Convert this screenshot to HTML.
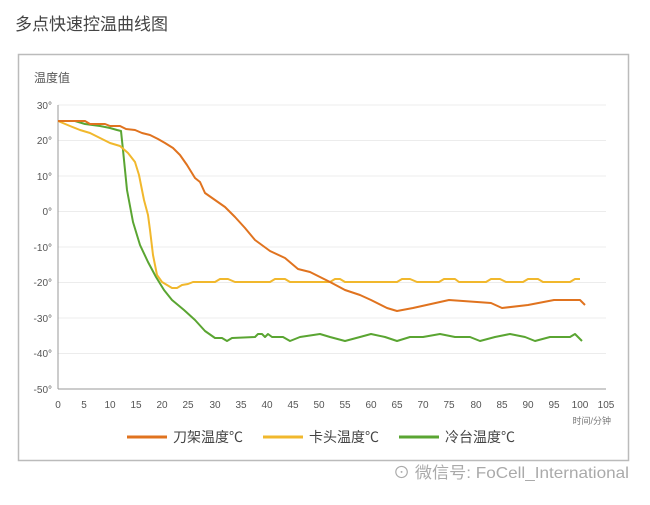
<!DOCTYPE html>
<html><head><meta charset="utf-8"><style>
body{margin:0;background:#fff;}
svg text{font-family:"Liberation Sans","Noto Sans CJK SC",sans-serif;}
</style></head><body>
<svg width="650" height="500" xmlns="http://www.w3.org/2000/svg">
<text x="15" y="30" font-size="17" fill="#444">多点快速控温曲线图</text>
<rect x="18.5" y="54.5" width="610" height="406" fill="none" stroke="#bbb" stroke-width="1.5"/>
<text x="34" y="82" font-size="12" fill="#555">温度值</text>
<g stroke="#ececec">
<line x1="58" y1="105" x2="606" y2="105"/><line x1="58" y1="140.5" x2="606" y2="140.5"/><line x1="58" y1="176" x2="606" y2="176"/><line x1="58" y1="211.5" x2="606" y2="211.5"/><line x1="58" y1="247" x2="606" y2="247"/><line x1="58" y1="282.5" x2="606" y2="282.5"/><line x1="58" y1="318" x2="606" y2="318"/><line x1="58" y1="353.5" x2="606" y2="353.5"/>
</g>
<line x1="58" y1="389" x2="606" y2="389" stroke="#999"/>
<line x1="58" y1="105" x2="58" y2="389" stroke="#999"/>
<g font-size="10" fill="#555" text-anchor="end">
<text x="52" y="109">30°</text><text x="52" y="144">20°</text><text x="52" y="180">10°</text><text x="52" y="215">0°</text><text x="52" y="251">-10°</text><text x="52" y="286">-20°</text><text x="52" y="322">-30°</text><text x="52" y="357">-40°</text><text x="52" y="393">-50°</text>
</g>
<g font-size="10" fill="#555" text-anchor="middle">
<text x="58" y="408">0</text><text x="84" y="408">5</text><text x="110" y="408">10</text><text x="136" y="408">15</text><text x="162" y="408">20</text><text x="188" y="408">25</text><text x="215" y="408">30</text><text x="241" y="408">35</text><text x="267" y="408">40</text><text x="293" y="408">45</text><text x="319" y="408">50</text><text x="345" y="408">55</text><text x="371" y="408">60</text><text x="397" y="408">65</text><text x="423" y="408">70</text><text x="449" y="408">75</text><text x="476" y="408">80</text><text x="502" y="408">85</text><text x="528" y="408">90</text><text x="554" y="408">95</text><text x="580" y="408">100</text><text x="606" y="408">105</text>
</g>
<text x="611" y="424" font-size="9" fill="#777" text-anchor="end">时间/分钟</text>
<g fill="none" stroke-width="2" stroke-linejoin="round">
<polyline stroke="#5aa532" points="58,121 75,121 85,124 100,126 110,128 117,130 121,131 123,150 127,190 133,222 140,245 148,262 156,277 164,290 172,300 184,310 195,320 205,331 215,338 222,338 227,341 232,338 255,337 258,334 262,334 265,337 268,334 272,337 283,337 290,341 300,337 320,334 330,337 345,341 360,337 371,334 385,337 397,341 410,337 423,337 440,334 455,337 470,337 480,341 495,337 510,334 525,337 535,341 550,337 570,337 575,334 582,341"/>
<polyline stroke="#f1b82d" points="58,121 70,126 80,130 90,133 100,138 110,143 120,146 128,153 135,162 139,175 144,200 148,215 150,230 153,255 157,275 162,282 167,285 172,288 177,288 182,285 188,284 193,282 199,282 215,282 220,279 228,279 235,282 270,282 275,279 285,279 290,282 330,282 335,279 340,279 345,282 397,282 402,279 410,279 417,282 439,282 444,279 455,279 459,282 486,282 491,279 500,279 506,282 523,282 528,279 538,279 543,282 570,282 575,279 580,279"/>
<polyline stroke="#e0731f" points="58,121 85,121 90,124 105,124 110,126 120,126 126,129 135,130 142,133 150,135 158,139 165,143 173,148 180,155 187,165 195,178 200,182 205,193 215,200 225,207 235,217 245,228 255,240 270,251 285,258 298,269 310,272 320,277 330,282 345,290 360,295 371,300 387,308 397,311 413,308 449,300 491,303 502,308 528,305 554,300 580,300 585,305"/>
</g>
<g font-size="14" fill="#444">
<line x1="127" y1="437" x2="167" y2="437" stroke="#e0731f" stroke-width="3"/><text x="173" y="442">刀架温度℃</text>
<line x1="263" y1="437" x2="303" y2="437" stroke="#f1b82d" stroke-width="3"/><text x="309" y="442">卡头温度℃</text>
<line x1="399" y1="437" x2="439" y2="437" stroke="#5aa532" stroke-width="3"/><text x="445" y="442">冷台温度℃</text>
</g>
<text x="393" y="478" font-size="16" fill="#aaa" textLength="236" lengthAdjust="spacingAndGlyphs">⊙ 微信号: FoCell_International</text>
</svg>
</body></html>
